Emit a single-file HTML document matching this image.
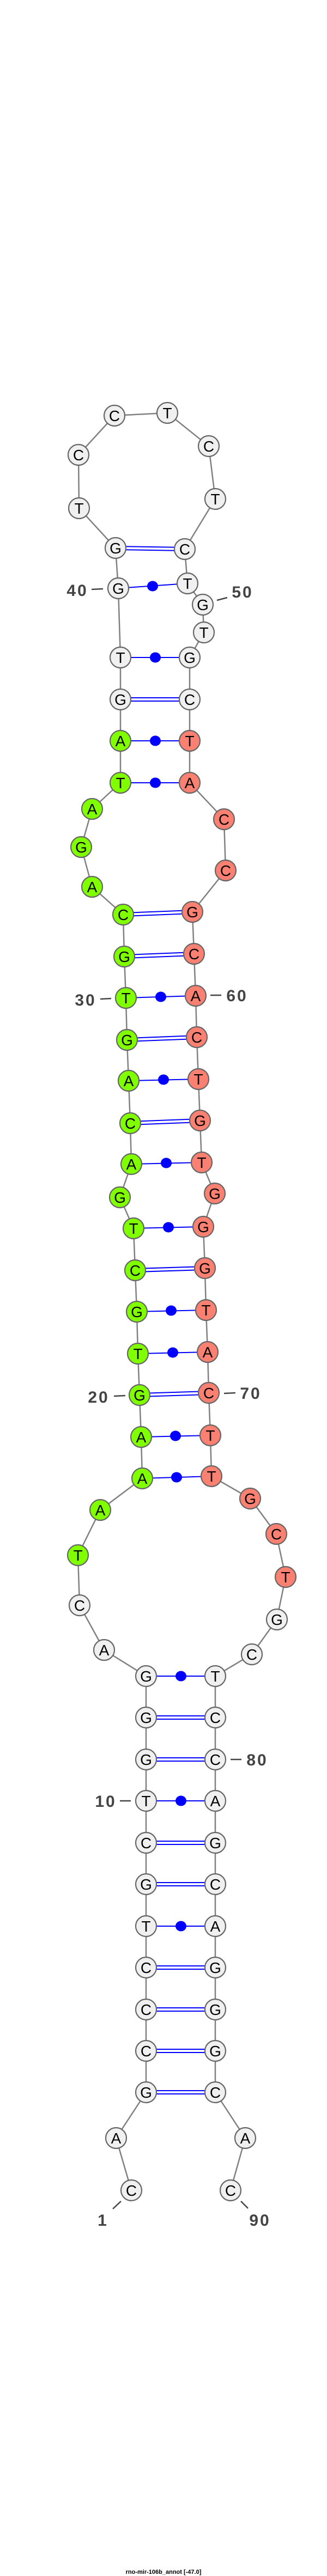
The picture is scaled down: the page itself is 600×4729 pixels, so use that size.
<!DOCTYPE html>
<html><head><meta charset="utf-8"><style>
html,body{margin:0;padding:0;background:#fff;}
svg{display:block;}
.n circle{stroke:#666;stroke-width:2.2;}
.n text{font-family:"Liberation Sans",sans-serif;font-size:28px;text-anchor:middle;fill:#000;}
.w{fill:#f0f0f0}.g{fill:#7fff00}.r{fill:#fa8072}
.lab{font-family:"Liberation Sans",sans-serif;font-weight:bold;font-size:30px;fill:#444;letter-spacing:3px;}
.tk{stroke:#444;stroke-width:2.5}
.p{stroke:#0000ff;stroke-width:2}
</style></head><body>
<svg width="600" height="4729" viewBox="0 0 600 4729" xmlns="http://www.w3.org/2000/svg">
<polyline fill="none" stroke="#808080" stroke-width="2.5" points="241,4021 213,3925 268,3841 268,3765 268,3689 268,3612 268,3536 268,3459 268,3383 268,3306 268,3230 268,3153 268,3077 191,3029 146,2947 143,2855 184,2772 261,2714 259,2638 256,2561 253,2485 251,2408 248,2332 245,2255 220,2198 241,2137 239,2062 236,1984 233,1909 231,1832 228,1756 226,1679 169,1628 149,1555 169,1485 221,1437 221,1360 221,1284 221,1207 217,1080 212,1006 145,933 144,835 210,763 307,758 383,819 395,916 339,1008 344,1071 372,1110 374,1161 348,1207 348,1284 348,1360 348,1437 411,1504 414,1598 353,1674 356,1751 359,1828 361,1904 364,1981 367,2057 370,2134 394,2191 373,2252 376,2328 378,2405 381,2482 383,2557 386,2635 388,2710 459,2751 507,2816 524,2895 508,2973 462,3037 395,3077 395,3153 395,3230 395,3306 395,3383 395,3459 395,3536 395,3612 395,3689 395,3765 395,3841 450,3925 423,4021"/>
<g class="p" fill="none">
<!-- double (GC) -->
<path d="M268,3838H395M268,3844H395 M268,3762H395M268,3768H395 M268,3686H395M268,3692H395 M268,3609H395M268,3615H395 M268,3456H395M268,3462H395 M268,3380H395M268,3386H395 M268,3227H395M268,3233H395 M268,3150H395M268,3156H395"/>
<path d="M256,2558L383,2554M256,2564L383,2560 M248,2329L376,2325M248,2335L376,2331 M239,2059L367,2054M239,2065L367,2060 M233,1906L361,1901M233,1912L361,1907 M228,1753L356,1748M228,1759L356,1754 M226,1676L353,1671M226,1682L353,1677 M221,1281H348M221,1287H348 M212,1003L339,1005M212,1009L339,1011"/>
<!-- single -->
<path d="M268,3077H395 M268,3306H395 M268,3536H395 M261,2714L388,2710 M259,2638L386,2635 M253,2485L381,2482 M251,2408L378,2405 M245,2255L373,2252 M241,2137L370,2134 M236,1984L364,1981 M231,1832L359,1828 M221,1437H348 M221,1360H348 M221,1207H348 M217,1080L344,1071"/>
</g>
<g fill="#0000ff">
<ellipse cx="332" cy="3077" rx="10" ry="9.5"/><ellipse cx="332" cy="3306" rx="10" ry="9.5"/><ellipse cx="332" cy="3536" rx="10" ry="9.5"/>
<ellipse cx="324" cy="2712" rx="10" ry="9.5"/><ellipse cx="322" cy="2636" rx="10" ry="9.5"/><ellipse cx="317" cy="2483" rx="10" ry="9.5"/>
<ellipse cx="314" cy="2406" rx="10" ry="9.5"/><ellipse cx="309" cy="2253" rx="10" ry="9.5"/><ellipse cx="305" cy="2135" rx="10" ry="9.5"/>
<ellipse cx="300" cy="1982" rx="10" ry="9.5"/><ellipse cx="295" cy="1830" rx="10" ry="9.5"/><ellipse cx="285" cy="1437" rx="10" ry="9.5"/>
<ellipse cx="285" cy="1360" rx="10" ry="9.5"/><ellipse cx="285" cy="1207" rx="10" ry="9.5"/><ellipse cx="280" cy="1076" rx="10" ry="9.5"/>
</g>
<g class="n">
<g transform="translate(241,4021)"><circle r="19" class="w"/><text y="10">C</text></g>
<g transform="translate(213,3925)"><circle r="19" class="w"/><text y="10">A</text></g>
<g transform="translate(268,3841)"><circle r="19" class="w"/><text y="10">G</text></g>
<g transform="translate(268,3765)"><circle r="19" class="w"/><text y="10">C</text></g>
<g transform="translate(268,3689)"><circle r="19" class="w"/><text y="10">C</text></g>
<g transform="translate(268,3612)"><circle r="19" class="w"/><text y="10">C</text></g>
<g transform="translate(268,3536)"><circle r="19" class="w"/><text y="10">T</text></g>
<g transform="translate(268,3459)"><circle r="19" class="w"/><text y="10">G</text></g>
<g transform="translate(268,3383)"><circle r="19" class="w"/><text y="10">C</text></g>
<g transform="translate(268,3306)"><circle r="19" class="w"/><text y="10">T</text></g>
<g transform="translate(268,3230)"><circle r="19" class="w"/><text y="10">G</text></g>
<g transform="translate(268,3153)"><circle r="19" class="w"/><text y="10">G</text></g>
<g transform="translate(268,3077)"><circle r="19" class="w"/><text y="10">G</text></g>
<g transform="translate(191,3029)"><circle r="19" class="w"/><text y="10">A</text></g>
<g transform="translate(146,2947)"><circle r="19" class="w"/><text y="10">C</text></g>
<g transform="translate(143,2855)"><circle r="19" class="g"/><text y="10">T</text></g>
<g transform="translate(184,2772)"><circle r="19" class="g"/><text y="10">A</text></g>
<g transform="translate(261,2714)"><circle r="19" class="g"/><text y="10">A</text></g>
<g transform="translate(259,2638)"><circle r="19" class="g"/><text y="10">A</text></g>
<g transform="translate(256,2561)"><circle r="19" class="g"/><text y="10">G</text></g>
<g transform="translate(253,2485)"><circle r="19" class="g"/><text y="10">T</text></g>
<g transform="translate(251,2408)"><circle r="19" class="g"/><text y="10">G</text></g>
<g transform="translate(248,2332)"><circle r="19" class="g"/><text y="10">C</text></g>
<g transform="translate(245,2255)"><circle r="19" class="g"/><text y="10">T</text></g>
<g transform="translate(220,2198)"><circle r="19" class="g"/><text y="10">G</text></g>
<g transform="translate(241,2137)"><circle r="19" class="g"/><text y="10">A</text></g>
<g transform="translate(239,2062)"><circle r="19" class="g"/><text y="10">C</text></g>
<g transform="translate(236,1984)"><circle r="19" class="g"/><text y="10">A</text></g>
<g transform="translate(233,1909)"><circle r="19" class="g"/><text y="10">G</text></g>
<g transform="translate(231,1832)"><circle r="19" class="g"/><text y="10">T</text></g>
<g transform="translate(228,1756)"><circle r="19" class="g"/><text y="10">G</text></g>
<g transform="translate(226,1679)"><circle r="19" class="g"/><text y="10">C</text></g>
<g transform="translate(169,1628)"><circle r="19" class="g"/><text y="10">A</text></g>
<g transform="translate(149,1555)"><circle r="19" class="g"/><text y="10">G</text></g>
<g transform="translate(169,1485)"><circle r="19" class="g"/><text y="10">A</text></g>
<g transform="translate(221,1437)"><circle r="19" class="g"/><text y="10">T</text></g>
<g transform="translate(221,1360)"><circle r="19" class="g"/><text y="10">A</text></g>
<g transform="translate(221,1284)"><circle r="19" class="w"/><text y="10">G</text></g>
<g transform="translate(221,1207)"><circle r="19" class="w"/><text y="10">T</text></g>
<g transform="translate(217,1080)"><circle r="19" class="w"/><text y="10">G</text></g>
<g transform="translate(212,1006)"><circle r="19" class="w"/><text y="10">G</text></g>
<g transform="translate(145,933)"><circle r="19" class="w"/><text y="10">T</text></g>
<g transform="translate(144,835)"><circle r="19" class="w"/><text y="10">C</text></g>
<g transform="translate(210,763)"><circle r="19" class="w"/><text y="10">C</text></g>
<g transform="translate(307,758)"><circle r="19" class="w"/><text y="10">T</text></g>
<g transform="translate(383,819)"><circle r="19" class="w"/><text y="10">C</text></g>
<g transform="translate(395,916)"><circle r="19" class="w"/><text y="10">T</text></g>
<g transform="translate(339,1008)"><circle r="19" class="w"/><text y="10">C</text></g>
<g transform="translate(344,1071)"><circle r="19" class="w"/><text y="10">T</text></g>
<g transform="translate(372,1110)"><circle r="19" class="w"/><text y="10">G</text></g>
<g transform="translate(374,1161)"><circle r="19" class="w"/><text y="10">T</text></g>
<g transform="translate(348,1207)"><circle r="19" class="w"/><text y="10">G</text></g>
<g transform="translate(348,1284)"><circle r="19" class="w"/><text y="10">C</text></g>
<g transform="translate(348,1360)"><circle r="19" class="r"/><text y="10">T</text></g>
<g transform="translate(348,1437)"><circle r="19" class="r"/><text y="10">A</text></g>
<g transform="translate(411,1504)"><circle r="19" class="r"/><text y="10">C</text></g>
<g transform="translate(414,1598)"><circle r="19" class="r"/><text y="10">C</text></g>
<g transform="translate(353,1674)"><circle r="19" class="r"/><text y="10">G</text></g>
<g transform="translate(356,1751)"><circle r="19" class="r"/><text y="10">C</text></g>
<g transform="translate(359,1828)"><circle r="19" class="r"/><text y="10">A</text></g>
<g transform="translate(361,1904)"><circle r="19" class="r"/><text y="10">C</text></g>
<g transform="translate(364,1981)"><circle r="19" class="r"/><text y="10">T</text></g>
<g transform="translate(367,2057)"><circle r="19" class="r"/><text y="10">G</text></g>
<g transform="translate(370,2134)"><circle r="19" class="r"/><text y="10">T</text></g>
<g transform="translate(394,2191)"><circle r="19" class="r"/><text y="10">G</text></g>
<g transform="translate(373,2252)"><circle r="19" class="r"/><text y="10">G</text></g>
<g transform="translate(376,2328)"><circle r="19" class="r"/><text y="10">G</text></g>
<g transform="translate(378,2405)"><circle r="19" class="r"/><text y="10">T</text></g>
<g transform="translate(381,2482)"><circle r="19" class="r"/><text y="10">A</text></g>
<g transform="translate(383,2557)"><circle r="19" class="r"/><text y="10">C</text></g>
<g transform="translate(386,2635)"><circle r="19" class="r"/><text y="10">T</text></g>
<g transform="translate(388,2710)"><circle r="19" class="r"/><text y="10">T</text></g>
<g transform="translate(459,2751)"><circle r="19" class="r"/><text y="10">G</text></g>
<g transform="translate(507,2816)"><circle r="19" class="r"/><text y="10">C</text></g>
<g transform="translate(524,2895)"><circle r="19" class="r"/><text y="10">T</text></g>
<g transform="translate(508,2973)"><circle r="19" class="w"/><text y="10">G</text></g>
<g transform="translate(462,3037)"><circle r="19" class="w"/><text y="10">C</text></g>
<g transform="translate(395,3077)"><circle r="19" class="w"/><text y="10">T</text></g>
<g transform="translate(395,3153)"><circle r="19" class="w"/><text y="10">C</text></g>
<g transform="translate(395,3230)"><circle r="19" class="w"/><text y="10">C</text></g>
<g transform="translate(395,3306)"><circle r="19" class="w"/><text y="10">A</text></g>
<g transform="translate(395,3383)"><circle r="19" class="w"/><text y="10">G</text></g>
<g transform="translate(395,3459)"><circle r="19" class="w"/><text y="10">C</text></g>
<g transform="translate(395,3536)"><circle r="19" class="w"/><text y="10">A</text></g>
<g transform="translate(395,3612)"><circle r="19" class="w"/><text y="10">G</text></g>
<g transform="translate(395,3689)"><circle r="19" class="w"/><text y="10">G</text></g>
<g transform="translate(395,3765)"><circle r="19" class="w"/><text y="10">G</text></g>
<g transform="translate(395,3841)"><circle r="19" class="w"/><text y="10">C</text></g>
<g transform="translate(450,3925)"><circle r="19" class="w"/><text y="10">A</text></g>
<g transform="translate(423,4021)"><circle r="19" class="w"/><text y="10">C</text></g>
</g>
<!-- number labels -->
<line class="tk" x1="168" y1="1082" x2="189" y2="1081"/><text class="lab" x="142" y="1094" text-anchor="middle">40</text>
<line class="tk" x1="398" y1="1102" x2="417" y2="1097"/><text class="lab" x="445" y="1097" text-anchor="middle">50</text>
<line class="tk" x1="184" y1="1834" x2="204" y2="1833"/><text class="lab" x="157" y="1846" text-anchor="middle">30</text>
<line class="tk" x1="386" y1="1827" x2="406" y2="1827"/><text class="lab" x="435" y="1838" text-anchor="middle">60</text>
<line class="tk" x1="209" y1="2563" x2="230" y2="2562"/><text class="lab" x="181" y="2575" text-anchor="middle">20</text>
<line class="tk" x1="411" y1="2558" x2="432" y2="2557"/><text class="lab" x="460" y="2568" text-anchor="middle">70</text>
<line class="tk" x1="423" y1="3230" x2="443" y2="3230"/><text class="lab" x="472" y="3241" text-anchor="middle">80</text>
<line class="tk" x1="220" y1="3306" x2="240" y2="3306"/><text class="lab" x="194" y="3317" text-anchor="middle">10</text>
<line class="tk" x1="207" y1="4055" x2="222" y2="4041"/><text class="lab" x="189" y="4086" text-anchor="middle">1</text>
<line class="tk" x1="442" y1="4041" x2="455" y2="4054"/><text class="lab" x="477" y="4086" text-anchor="middle">90</text>
<text x="300" y="4725" text-anchor="middle" font-family="Liberation Sans, sans-serif" font-weight="bold" font-size="11" fill="#000">rno-mir-106b_annot [-47.0]</text>
</svg>
</body></html>
